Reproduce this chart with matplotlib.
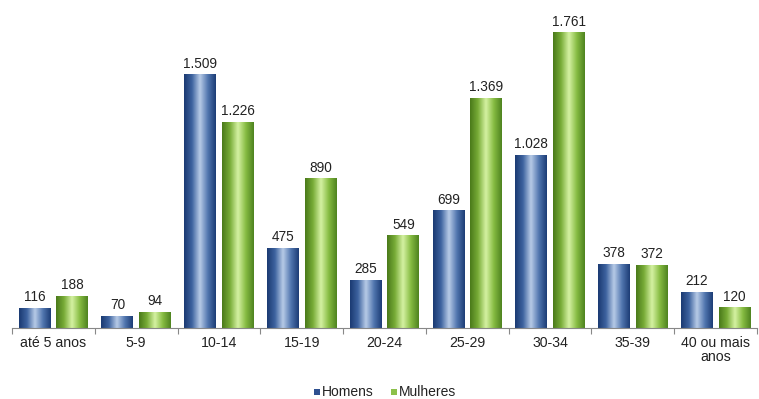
import numpy as np
import matplotlib
matplotlib.use('Agg')
from matplotlib import pyplot as plt
from matplotlib.colors import LinearSegmentedColormap

categories = ['até 5 anos', '5-9', '10-14', '15-19', '20-24', '25-29', '30-34', '35-39', '40 ou mais\nanos']
homens = [116, 70, 1509, 475, 285, 699, 1028, 378, 212]
mulheres = [188, 94, 1226, 890, 549, 1369, 1761, 372, 120]

plt.rcParams['font.family'] = ['Liberation Sans', 'DejaVu Sans']

blue_cm = LinearSegmentedColormap.from_list('b', ['#1b3a72', '#3e64a0', '#b9cce8', '#5277b0', '#1d3d76'])
green_cm = LinearSegmentedColormap.from_list('g', ['#4a7a1a', '#79ad38', '#d6f2a4', '#86bc42', '#4f8420'])
grad = np.linspace(0, 1, 64).reshape(1, -1)


def fmt(v):
    return '{:,}'.format(v).replace(',', '.')


def gbar(ax, x, w, h, cmap):
    ax.imshow(grad, cmap=cmap, extent=[x - w / 2, x + w / 2, 0, h], aspect='auto',
              interpolation='bicubic', zorder=2)
    ax.text(x, h + 25, fmt(h), ha='center', va='bottom', fontsize=9.8, color='#222222')


fig = plt.figure(figsize=(7.59, 3.99), dpi=100)
ax = fig.add_axes([12 / 759, 71 / 399, 745 / 759, 327 / 399])

w = 0.385
off = 0.2275
xs = np.arange(len(categories))
for i in xs:
    gbar(ax, i - off, w, homens[i], blue_cm)
    gbar(ax, i + off, w, mulheres[i], green_cm)

ax.set_xlim(-0.5, len(categories) - 0.5)
ax.set_ylim(0, 1950)
for s in ['top', 'right', 'left']:
    ax.spines[s].set_visible(False)
ax.spines['bottom'].set_color('#888888')
ax.set_yticks([])
ax.set_xticks(np.arange(len(categories) + 1) - 0.5)
ax.set_xticklabels([])
ax.tick_params(axis='x', length=4, color='#888888', direction='out')
for i, c in enumerate(categories):
    ax.text(i, -50, c, ha='center', va='top', fontsize=10.2, color='#222222', linespacing=1.0)

# legend
fig.patches.append(plt.Rectangle((314 / 759, 4 / 399), 6 / 759, 6 / 399, transform=fig.transFigure,
                                 facecolor='#2e5090', figure=fig))
fig.text(322 / 759, 7.5 / 399, 'Homens', fontsize=10, va='center', color='#222222')
fig.patches.append(plt.Rectangle((391 / 759, 4 / 399), 6 / 759, 6 / 399, transform=fig.transFigure,
                                 facecolor='#8cc04a', figure=fig))
fig.text(399 / 759, 7.5 / 399, 'Mulheres', fontsize=10, va='center', color='#222222')

fig.savefig('out.png', dpi=100)
